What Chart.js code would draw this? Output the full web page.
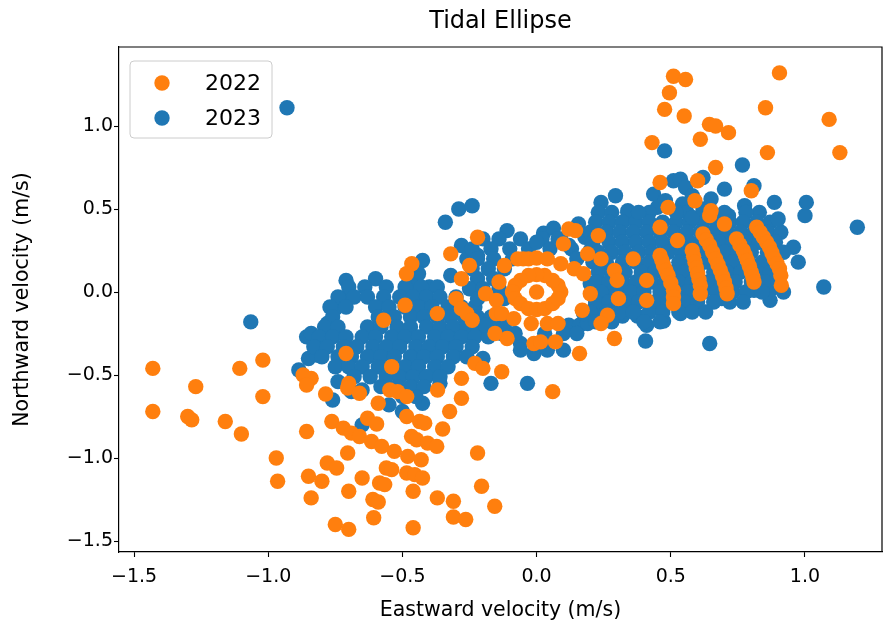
<!DOCTYPE html>
<html>
<head>
<meta charset="utf-8">
<title>Tidal Ellipse</title>
<script src="https://cdn.jsdelivr.net/npm/chart.js@4.4.1/dist/chart.umd.min.js"></script>
<style>
  html, body { margin: 0; padding: 0; background: #fff; }
  canvas { display: block; }
</style>
</head>
<body>
<canvas id="ellipse" width="883" height="626"></canvas>
<script>
const seriesNames = ["2022", "2023"];
const seriesColors = ["#ff7f0e", "#1f77b4"];
const xTicks = [-1.5, -1.0, -0.5, 0.0, 0.5, 1.0];
const yTicks = [-1.5, -1.0, -0.5, 0.0, 0.5, 1.0];

// [eastward, northward] velocity pairs in m/s
const points2022 = [
  [0.51, 1.30], [0.555, 1.28], [0.495, 1.20], [0.477, 1.10], [0.55, 1.06], [0.43, 0.90], [0.46, 0.66], [0.49, 0.51],
  [0.905, 1.32], [0.853, 1.11], [1.09, 1.04], [0.644, 1.01], [0.667, 1.00], [0.715, 0.96], [0.61, 0.92], [0.86, 0.84],
  [1.13, 0.84], [0.667, 0.75], [0.60, 0.67], [0.80, 0.61], [0.59, 0.55], [0.65, 0.49],
  [0.70, 0.41], [0.645, 0.46],
  [0.58, 0.25], [0.585, 0.215], [0.59, 0.18], [0.595, 0.145], [0.60, 0.11], [0.605, 0.075], [0.61, 0.04], [0.61, -0.01],
  [0.62, 0.35], [0.632, 0.315], [0.645, 0.28], [0.656, 0.24], [0.667, 0.20], [0.676, 0.165], [0.685, 0.13], [0.693, 0.095],
  [0.70, 0.06], [0.706, 0.025], [0.71, -0.01],
  [0.745, 0.32], [0.757, 0.285], [0.77, 0.25], [0.778, 0.22], [0.785, 0.19], [0.793, 0.155], [0.80, 0.12], [0.806, 0.09], [0.81, 0.06],
  [0.82, 0.39], [0.833, 0.36], [0.845, 0.33], [0.857, 0.30], [0.868, 0.27], [0.877, 0.235], [0.886, 0.20], [0.896, 0.17],
  [0.905, 0.14], [0.91, 0.10], [0.912, 0.04],
  [0.46, 0.39], [0.525, 0.31], [0.46, 0.22], [0.467, 0.19], [0.473, 0.16], [0.482, 0.13], [0.49, 0.10], [0.50, 0.055],
  [0.51, 0.01], [0.51, -0.03], [0.51, -0.07],
  [0.36, 0.20], [0.41, 0.07], [0.41, -0.05], [0.29, 0.13], [0.30, 0.07], [0.305, -0.04], [0.264, -0.14], [0.24, -0.19],
  [0.20, -0.01], [0.17, -0.11], [0.19, 0.23], [0.24, 0.20], [0.23, 0.34], [0.12, 0.38], [0.145, 0.37], [0.10, 0.29],
  [0.16, -0.37], [0.29, -0.28], [-0.13, -0.48], [0.06, -0.60],
  [0.00, 0.00],
  [0.09, 0.00], [0.08, 0.04], [0.06, 0.07], [0.03, 0.10], [0.00, 0.105], [-0.03, 0.10], [-0.06, 0.07], [-0.08, 0.04],
  [-0.09, 0.00], [-0.08, -0.04], [-0.06, -0.07], [-0.03, -0.10], [0.00, -0.105], [0.03, -0.10], [0.06, -0.07], [0.08, -0.04],
  [-0.07, 0.20], [-0.05, 0.20], [-0.03, 0.20], [0.00, 0.205], [0.04, 0.20], [0.09, 0.17], [0.14, 0.14], [0.175, 0.11],
  [-0.12, 0.16], [-0.14, 0.06], [-0.19, -0.01], [-0.15, -0.05], [-0.15, -0.13], [-0.13, -0.13], [-0.085, -0.16], [-0.02, -0.19],
  [0.04, -0.19], [0.08, -0.19],
  [-0.11, -0.28], [-0.01, -0.31], [0.015, -0.30], [0.07, -0.30], [-0.155, -0.25],
  [-0.22, 0.33], [-0.32, 0.23], [-0.465, 0.17], [-0.485, 0.11], [-0.25, 0.16], [-0.28, 0.08], [-0.30, -0.04], [-0.28, -0.10],
  [-0.26, -0.13], [-0.24, -0.17], [-0.37, -0.13], [-0.49, -0.08], [-0.57, -0.17], [-0.71, -0.37], [-0.54, -0.45], [-0.23, -0.43],
  [-0.20, -0.46], [-0.28, -0.52], [-0.70, -0.55], [-0.84, -0.52],
  [-1.43, -0.46], [-1.106, -0.46], [-1.02, -0.41], [-1.27, -0.57], [-0.87, -0.50], [-1.43, -0.72], [-1.30, -0.75], [-1.285, -0.77],
  [-1.16, -0.78], [-1.10, -0.855], [-1.02, -0.63], [-0.97, -1.00], [-0.965, -1.14], [-0.857, -0.84], [-0.85, -1.11], [-0.84, -1.24],
  [-0.857, -0.56],
  [-0.786, -0.614], [-0.704, -0.578], [-0.66, -0.61], [-0.59, -0.67], [-0.547, -0.59], [-0.518, -0.60], [-0.484, -0.63], [-0.369, -0.59],
  [-0.28, -0.64], [-0.484, -0.75], [-0.436, -0.78], [-0.417, -0.79], [-0.324, -0.72], [-0.35, -0.825], [-0.63, -0.76], [-0.596, -0.795],
  [-0.763, -0.78], [-0.72, -0.82], [-0.69, -0.85], [-0.66, -0.87], [-0.615, -0.90], [-0.577, -0.93], [-0.53, -0.96], [-0.48, -0.99],
  [-0.43, -1.01], [-0.466, -0.87], [-0.447, -0.89], [-0.406, -0.91], [-0.372, -0.93], [-0.704, -0.97], [-0.78, -1.03], [-0.745, -1.06],
  [-0.56, -1.06], [-0.54, -1.07], [-0.484, -1.09], [-0.454, -1.10], [-0.425, -1.12], [-0.22, -0.97], [-0.80, -1.14], [-0.65, -1.12],
  [-0.585, -1.15], [-0.566, -1.16], [-0.70, -1.20], [-0.46, -1.20], [-0.205, -1.17], [-0.37, -1.24], [-0.31, -1.26], [-0.156, -1.29],
  [-0.61, -1.25], [-0.59, -1.265], [-0.607, -1.36], [-0.75, -1.40], [-0.70, -1.43], [-0.31, -1.355], [-0.264, -1.37], [-0.46, -1.42]
];

const points2023 = [
  // scattered readings
  [-0.93, 1.11], [-1.065, -0.18], [0.645, -0.31], [1.195, 0.39], [1.07, 0.03], [0.975, 0.18], [0.957, 0.27], [1.0, 0.46],
  [1.005, 0.54], [0.886, 0.54], [0.87, -0.05], [0.875, 0.02], [0.767, 0.765], [0.81, 0.64], [0.477, 0.85], [-0.034, -0.55],
  [-0.01, -0.37], [-0.34, 0.42], [-0.29, 0.50], [-0.24, 0.52], [-0.425, 0.19], [-0.44, 0.11], [-0.60, 0.08], [-0.26, 0.20],
  [-0.32, 0.10], [-0.11, 0.37], [0.026, 0.355], [0.063, 0.385], [0.156, 0.41], [0.24, 0.54], [0.294, 0.58], [0.34, 0.49],
  [0.23, 0.48], [0.436, 0.59], [0.45, 0.51], [0.51, 0.67], [0.536, 0.68], [0.555, 0.63], [0.544, 0.53], [0.62, 0.69],
  [0.65, 0.56], [0.775, 0.52], [0.715, 0.46], [0.83, 0.48],
  [-0.857, -0.27], [-0.85, -0.40], [-0.886, -0.47], [-0.84, -0.25], [-0.78, -0.19], [-0.75, -0.10], [-0.72, -0.04], [-0.71, 0.07],
  [-0.76, -0.65], [-0.65, -0.59], [-0.65, -0.80], [-0.425, -0.67], [-0.17, -0.55], [-0.80, -0.30], [-0.82, -0.38], [-0.74, -0.54],
  [-0.69, -0.60], [-0.55, -0.68], [-0.50, -0.72], [-0.36, -0.55], [-0.20, -0.40], [-0.13, -0.25], [-0.06, -0.31], [-0.12, -0.20],
  [-0.47, 0.05], [-0.40, 0.03],
  // western cluster
  [-0.70, 0.03], [-0.64, 0.03], [-0.56, 0.03], [-0.49, 0.03], [-0.43, 0.03], [-0.37, 0.03],
  [-0.74, -0.03], [-0.68, -0.03], [-0.63, -0.03], [-0.57, -0.03], [-0.51, -0.03], [-0.46, -0.03], [-0.41, -0.03], [-0.36, -0.03], [-0.30, -0.03],
  [-0.77, -0.09], [-0.71, -0.09], [-0.60, -0.09], [-0.55, -0.09], [-0.49, -0.09], [-0.44, -0.09], [-0.39, -0.09], [-0.33, -0.09],
  [-0.28, -0.09], [-0.23, -0.09],
  [-0.76, -0.15], [-0.59, -0.15], [-0.53, -0.15], [-0.47, -0.15], [-0.42, -0.15], [-0.37, -0.15], [-0.32, -0.15], [-0.27, -0.15],
  [-0.22, -0.15], [-0.17, -0.15],
  [-0.79, -0.21], [-0.74, -0.21], [-0.63, -0.21], [-0.58, -0.21], [-0.52, -0.21], [-0.47, -0.21], [-0.41, -0.21], [-0.36, -0.21],
  [-0.31, -0.21], [-0.26, -0.21], [-0.21, -0.21], [-0.16, -0.21],
  [-0.81, -0.27], [-0.76, -0.27], [-0.71, -0.27], [-0.65, -0.27], [-0.60, -0.27], [-0.54, -0.27], [-0.49, -0.27], [-0.44, -0.27],
  [-0.38, -0.27], [-0.33, -0.27], [-0.28, -0.27], [-0.23, -0.27], [-0.18, -0.27],
  [-0.83, -0.33], [-0.78, -0.33], [-0.72, -0.33], [-0.67, -0.33], [-0.61, -0.33], [-0.56, -0.33], [-0.51, -0.33], [-0.45, -0.33],
  [-0.40, -0.33], [-0.35, -0.33], [-0.30, -0.33], [-0.24, -0.33],
  [-0.80, -0.39], [-0.74, -0.39], [-0.69, -0.39], [-0.63, -0.39], [-0.58, -0.39], [-0.53, -0.39], [-0.47, -0.39], [-0.42, -0.39],
  [-0.37, -0.39], [-0.31, -0.39], [-0.26, -0.39],
  [-0.75, -0.45], [-0.70, -0.45], [-0.65, -0.45], [-0.59, -0.45], [-0.49, -0.45], [-0.44, -0.45], [-0.38, -0.45], [-0.33, -0.45],
  [-0.68, -0.51], [-0.62, -0.51], [-0.56, -0.51], [-0.51, -0.51], [-0.46, -0.51], [-0.41, -0.51], [-0.36, -0.51],
  [-0.58, -0.57], [-0.52, -0.57], [-0.47, -0.57], [-0.42, -0.57],
  [-0.50, -0.63], [-0.45, -0.63],
  // central band
  [-0.28, 0.28], [-0.22, 0.22], [-0.20, 0.32], [-0.14, 0.32], [-0.06, 0.32], [0.02, 0.32], [0.09, 0.32],
  [-0.24, 0.26], [-0.17, 0.26], [-0.10, 0.26], [-0.03, 0.26], [0.05, 0.26], [0.13, 0.26],
  [-0.22, 0.20], [-0.16, 0.20], [-0.09, 0.20], [-0.24, 0.14], [-0.18, 0.14], [-0.12, 0.14],
  [-0.22, 0.08], [-0.16, 0.08], [-0.25, 0.02], [-0.20, 0.02], [-0.14, 0.02], [-0.22, -0.04], [-0.12, -0.04],
  [-0.19, -0.20], [0.12, -0.20], [0.16, -0.20], [-0.08, -0.25], [0.03, -0.25], [0.10, -0.25], [0.15, -0.25],
  [-0.06, -0.35], [0.04, -0.35], [0.10, -0.35],
  [0.00, 0.30], [0.08, 0.32], [0.12, 0.28], [0.18, 0.33], [0.20, 0.25], [0.15, 0.20], [0.20, 0.05], [0.22, -0.08],
  [0.25, -0.12], [0.24, 0.05], [0.28, 0.00], [0.19, -0.19], [0.175, -0.13], [0.32, -0.145], [0.376, -0.145], [0.406, -0.295],
  [0.41, -0.20], [0.473, -0.175], [0.536, -0.13], [0.59, -0.02], [0.69, -0.04], [0.81, 0.01], [0.75, 0.13], [0.625, 0.22],
  [0.80, 0.27],
  // eastern cluster
  [0.28, 0.48], [0.34, 0.48], [0.42, 0.48], [0.56, 0.48], [0.62, 0.48], [0.70, 0.48], [0.78, 0.48],
  [0.22, 0.42], [0.27, 0.42], [0.32, 0.42], [0.37, 0.42], [0.42, 0.42], [0.47, 0.42], [0.52, 0.42], [0.57, 0.42],
  [0.62, 0.42], [0.67, 0.42], [0.72, 0.42], [0.77, 0.42], [0.82, 0.42], [0.87, 0.42],
  [0.20, 0.36], [0.26, 0.36], [0.31, 0.36], [0.36, 0.36], [0.41, 0.36], [0.46, 0.36], [0.51, 0.36], [0.56, 0.36],
  [0.61, 0.36], [0.66, 0.36], [0.71, 0.36], [0.76, 0.36], [0.81, 0.36], [0.86, 0.36], [0.91, 0.36],
  [0.21, 0.30], [0.27, 0.30], [0.32, 0.30], [0.37, 0.30], [0.42, 0.30], [0.47, 0.30], [0.52, 0.30], [0.57, 0.30],
  [0.62, 0.30], [0.68, 0.30], [0.73, 0.30], [0.78, 0.30], [0.83, 0.30], [0.89, 0.30],
  [0.23, 0.24], [0.28, 0.24], [0.33, 0.24], [0.38, 0.24], [0.43, 0.24], [0.49, 0.24], [0.54, 0.24], [0.59, 0.24],
  [0.64, 0.24], [0.70, 0.24], [0.75, 0.24], [0.80, 0.24], [0.86, 0.24], [0.92, 0.24],
  [0.21, 0.18], [0.26, 0.18], [0.32, 0.18], [0.37, 0.18], [0.42, 0.18], [0.47, 0.18], [0.53, 0.18], [0.58, 0.18],
  [0.63, 0.18], [0.68, 0.18], [0.73, 0.18], [0.79, 0.18], [0.84, 0.18], [0.89, 0.18],
  [0.23, 0.12], [0.28, 0.12], [0.33, 0.12], [0.39, 0.12], [0.44, 0.12], [0.50, 0.12], [0.55, 0.12], [0.60, 0.12],
  [0.66, 0.12], [0.71, 0.12], [0.76, 0.12], [0.82, 0.12], [0.87, 0.12],
  [0.22, 0.06], [0.27, 0.06], [0.32, 0.06], [0.37, 0.06], [0.43, 0.06], [0.48, 0.06], [0.53, 0.06], [0.58, 0.06],
  [0.64, 0.06], [0.69, 0.06], [0.74, 0.06], [0.80, 0.06], [0.85, 0.06], [0.90, 0.06],
  [0.24, 0.00], [0.30, 0.00], [0.35, 0.00], [0.40, 0.00], [0.46, 0.00], [0.51, 0.00], [0.56, 0.00], [0.62, 0.00],
  [0.67, 0.00], [0.73, 0.00], [0.78, 0.00], [0.84, 0.00],
  [0.22, -0.06], [0.27, -0.06], [0.33, -0.06], [0.38, -0.06], [0.44, -0.06], [0.49, -0.06], [0.55, -0.06], [0.60, -0.06],
  [0.66, -0.06], [0.72, -0.06], [0.77, -0.06],
  [0.20, -0.12], [0.26, -0.12], [0.31, -0.12], [0.36, -0.12], [0.42, -0.12], [0.47, -0.12], [0.53, -0.12], [0.58, -0.12],
  [0.63, -0.12],
  [0.22, -0.18], [0.28, -0.18], [0.40, -0.18], [0.46, -0.18],
  [0.38, 0.48], [0.48, 0.55], [0.52, 0.48], [0.58, 0.45], [0.62, 0.50], [0.90, 0.44], [0.92, 0.00], [0.58, 0.58], [0.70, 0.62]
];

const font = "'DejaVu Sans', sans-serif";

function tickText(v) {
  return v.toFixed(1).replace("-", "\u2212");
}

// top and right spines, plus the title above the axes box
const frame = {
  id: "frame",
  afterDraw(chart) {
    const { ctx, chartArea: a } = chart;
    ctx.save();
    ctx.strokeStyle = "#000";
    ctx.lineWidth = 1.2;
    ctx.beginPath();
    ctx.moveTo(a.left, a.top);
    ctx.lineTo(a.right, a.top);
    ctx.lineTo(a.right, a.bottom);
    ctx.stroke();
    ctx.fillStyle = "#000";
    ctx.font = `24px ${font}`;
    ctx.textAlign = "center";
    ctx.textBaseline = "middle";
    ctx.fillText("Tidal Ellipse", (a.left + a.right) / 2, 22);
    ctx.restore();
  }
};

// legend box in the upper-left corner of the axes
const cornerLegend = {
  id: "cornerLegend",
  afterDatasetsDraw(chart) {
    const { ctx, chartArea: a } = chart;
    const x = a.left + 11, y = a.top + 14, w = 142, h = 77;
    ctx.save();
    ctx.beginPath();
    ctx.roundRect(x, y, w, h, 4);
    ctx.fillStyle = "rgba(255,255,255,0.8)";
    ctx.fill();
    ctx.strokeStyle = "#cccccc";
    ctx.lineWidth = 1;
    ctx.stroke();
    ctx.font = `22px ${font}`;
    ctx.textBaseline = "middle";
    chart.data.datasets.forEach((ds, i) => {
      const cy = y + 22 + i * 35;
      ctx.beginPath();
      ctx.arc(x + 32, cy, 7.7, 0, Math.PI * 2);
      ctx.fillStyle = ds.backgroundColor;
      ctx.fill();
      ctx.fillStyle = "#000";
      ctx.fillText(ds.label, x + 75, cy + 1);
    });
    ctx.restore();
  }
};

function axis(ticks, min, max, title, extra) {
  return {
    type: "linear",
    min,
    max,
    afterBuildTicks: (s) => { s.ticks = ticks.map((value) => ({ value })); },
    grid: { drawOnChartArea: false, drawTicks: true, tickLength: 5, color: "#000", tickWidth: 1.1 },
    border: { display: true, color: "#000", width: 1.2 },
    ticks: { color: "#000", font: { family: font, size: 19 }, callback: (v) => tickText(v), maxRotation: 0, ...extra.ticks },
    title: { display: true, text: title, color: "#000", font: { family: font, size: 20.5 }, padding: extra.titlePad },
    afterFit: extra.fit
  };
}

new Chart(document.getElementById("ellipse"), {
  type: "scatter",
  data: {
    datasets: [points2022, points2023].map((pts, i) => ({
      label: seriesNames[i],
      data: pts.map(([x, y]) => ({ x, y })),
      backgroundColor: seriesColors[i],
      borderWidth: 0,
      pointRadius: 7.7,
      pointHoverRadius: 7.7
    }))
  },
  options: {
    responsive: false,
    animation: false,
    events: [],
    layout: { autoPadding: false, padding: { top: 47, right: 1 } },
    plugins: { legend: { display: false }, tooltip: { enabled: false } },
    scales: {
      x: axis(xTicks, -1.556, 1.287, "Eastward velocity (m/s)", {
        ticks: { padding: 9 },
        titlePad: { top: 0, bottom: 3 },
        fit: (s) => { s.height = 74; s.paddingLeft = 0; s.paddingRight = 0; }
      }),
      y: axis(yTicks, -1.566, 1.476, "Northward velocity (m/s)", {
        ticks: { padding: 1 },
        titlePad: { top: 10, bottom: 0 },
        fit: (s) => { s.width = 119; s.paddingTop = 0; s.paddingBottom = 0; }
      })
    }
  },
  plugins: [frame, cornerLegend]
});
</script>
</body>
</html>
